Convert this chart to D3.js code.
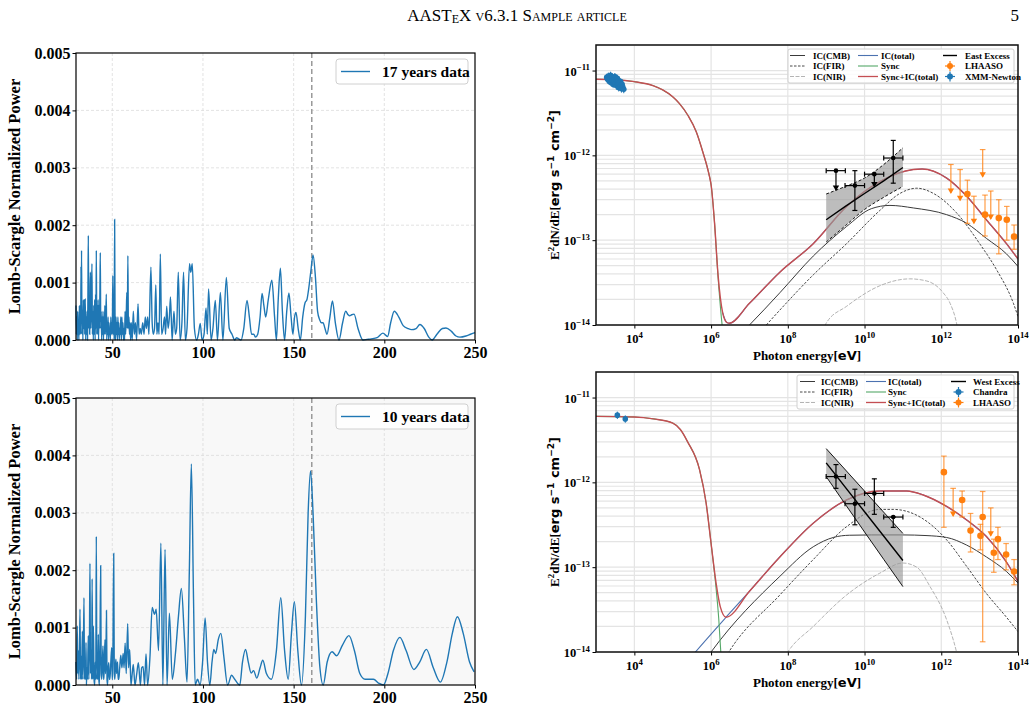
<!DOCTYPE html>
<html>
<head>
<meta charset="utf-8">
<script src="https://cdn.jsdelivr.net/npm/d3@7"></script>
<style>
body { margin: 0; background: #fff; }
svg { display: block; }
</style>
</head>
<body>
<svg id="fig" width="1034" height="712"></svg>
<script>
// ---- periodogram data (period in days, normalized power) ----
var lomb17 = [[30.0,0.0006],[30.2,0.0001],[30.45,0.0004],[30.7,0.0],[30.9,0.0005],[31.1,0.0001],[31.35,0.0003],[31.6,0.0],[31.85,0.0006],[32.1,0.0001],[32.35,0.0006],[32.6,0.0001],[32.75,0.00128],[32.9,0.0003],[33.05,0.00156],[33.3,0.0001],[33.55,0.0005],[33.8,0.0],[34.05,0.0007],[34.3,0.0002],[34.55,0.0007],[34.8,0.0001],[35.1,0.00072],[35.35,0.0],[35.6,0.0004],[35.85,0.0001],[36.1,0.0005],[36.35,0.0],[36.6,0.0009],[36.8,0.00182],[37.05,0.0002],[37.3,0.0006],[37.55,0.0001],[37.75,0.0009],[37.95,0.00118],[38.2,0.0002],[38.45,0.0006],[38.8,0.00133],[39.05,0.0001],[39.3,0.0005],[39.55,0.0],[39.8,0.0006],[40.05,0.0001],[40.3,0.0007],[40.55,0.0],[40.8,0.0008],[41.0,0.0002],[41.2,0.00156],[41.45,0.0001],[41.7,0.0006],[41.95,0.0001],[42.2,0.0007],[42.45,0.0],[42.7,0.0006],[42.95,0.0002],[43.2,0.0009],[43.4,0.00152],[43.65,0.0002],[43.9,0.0005],[44.15,0.0],[44.4,0.0004],[44.65,0.0001],[44.9,0.0005],[45.15,0.0],[45.4,0.0004],[45.65,0.0001],[45.9,0.0006],[46.15,0.0001],[46.4,0.0003],[46.7,0.0008],[46.95,0.0],[47.2,0.0003],[47.45,0.0001],[47.7,0.0004],[47.95,0.0],[48.2,0.0003],[48.45,0.0001],[48.7,0.0002],[48.95,0.0],[49.2,0.0004],[49.45,0.0001],[49.7,0.0003],[50.0,0.0001],[50.3,0.00112],[50.55,0.0001],[50.8,0.0004],[51.05,0.0],[51.3,0.0021],[51.55,0.0002],[51.8,0.0],[52.05,0.0004],[52.3,0.0001],[52.6,0.0003],[52.85,0.0],[53.1,0.0004],[53.35,0.0001],[53.6,0.0003],[53.85,0.0],[54.1,0.0002],[54.4,0.0001],[54.7,0.0004],[55.0,0.0],[55.3,0.0004],[55.6,0.0001],[55.9,0.0003],[56.2,0.0],[56.5,0.0002],[56.8,0.0],[57.05,0.0005],[57.35,0.0001],[57.7,0.0004],[58.0,0.00083],[58.3,0.0002],[58.6,0.00147],[58.9,0.0002],[59.2,0.0004],[59.5,0.0001],[59.8,0.0003],[60.1,0.0],[60.5,0.0003],[61.0,0.0],[61.6,0.0005],[62.2,0.0001],[62.8,0.0003],[63.4,0.0],[64.2,0.00063],[64.8,0.0001],[65.4,0.0002],[66.0,0.0001],[66.8,0.0003],[67.5,0.0001],[68.2,0.0004],[68.8,0.0002],[69.5,0.0004],[70.2,0.0001],[71.3,0.00127],[72.0,0.0003],[72.6,0.0001],[73.3,0.0002],[74.0,0.00096],[74.6,0.0001],[75.2,0.0003],[75.8,0.0001],[76.5,0.0015],[77.2,0.0001],[78.0,0.0002],[78.8,0.0004],[79.4,0.0001],[80.0,0.00059],[80.8,0.0002],[81.5,0.0004],[82.1,0.00075],[83.0,0.0],[84.0,0.0005],[84.8,0.0001],[85.5,0.0002],[86.4,0.00118],[87.4,0.0],[88.4,0.0003],[89.3,0.00118],[90.3,0.0],[91.2,0.0002],[92.6,0.00133],[93.3,0.00118],[94.1,0.00133],[95.3,0.0002],[96.5,0.0],[97.5,0.0001],[98.5,0.00029],[99.5,0.0],[100.6,0.0001],[101.7,0.00056],[102.4,0.0001],[103.1,0.00089],[104.5,0.0],[105.5,0.0002],[106.8,0.00069],[108.0,0.0],[109.6,0.00083],[111.0,0.0],[112.9,0.00109],[114.5,0.0002],[116.0,0.0001],[117.5,0.0],[118.5,0.00004],[119.7,0.00002],[121.0,0.0],[122.5,0.0002],[124.3,0.00069],[125.6,0.0004],[126.8,0.0001],[128.0,0.0001],[129.0,0.00005],[130.2,0.0001],[131.5,0.0004],[132.6,0.00081],[133.6,0.0006],[134.6,0.0004],[136.0,0.0007],[138.0,0.00104],[139.5,0.0004],[140.5,0.0],[141.5,0.0007],[142.7,0.00125],[143.8,0.0005],[145.0,0.0],[146.2,0.0005],[147.4,0.00082],[148.6,0.0004],[149.6,0.0001],[150.5,0.0004],[151.3,0.00048],[152.5,0.0002],[153.7,0.0],[155.0,0.0004],[156.3,0.00065],[157.3,0.0007],[158.2,0.00087],[159.5,0.0012],[160.7,0.00148],[162.0,0.0011],[163.2,0.0005],[164.4,0.00035],[165.3,0.0003],[166.2,0.0003],[167.3,0.0002],[168.4,0.0001],[170.0,0.0004],[171.4,0.00068],[173.0,0.0003],[175.0,0.0],[177.0,0.0003],[178.7,0.0005],[180.0,0.00044],[180.9,0.00042],[182.0,0.00044],[183.3,0.00045],[185.5,0.0002],[188.2,0.0],[190.5,0.00001],[192.8,0.00002],[196.0,0.00004],[199.2,0.00012],[201.8,0.00006],[203.5,0.0003],[205.5,0.0005],[208.0,0.0004],[210.4,0.00025],[213.0,0.0002],[215.0,0.00018],[217.5,0.0002],[219.6,0.00027],[222.0,0.0002],[224.5,0.00005],[226.4,0.0],[229.0,0.0001],[232.0,0.0002],[234.0,0.00021],[237.0,0.00015],[239.5,0.00007],[241.7,0.00005],[245.0,0.00007],[247.5,0.0001],[250.0,0.00013]];

var lomb10 = [[30.0,0.0004],[30.35,0.0001],[30.7,0.00103],[31.0,0.0002],[31.3,0.0006],[31.6,0.0001],[31.9,0.0005],[32.2,0.00132],[32.5,0.0001],[32.8,0.0005],[33.1,0.0001],[33.5,0.00094],[33.8,0.0001],[34.1,0.0006],[34.4,0.00152],[34.7,0.0001],[35.0,0.0004],[35.25,0.0001],[35.5,0.00074],[35.75,0.0],[36.0,0.0003],[36.3,0.0001],[36.8,0.00086],[37.05,0.0001],[37.4,0.0007],[37.7,0.00212],[38.0,0.0002],[38.3,0.0006],[38.6,0.0001],[38.9,0.00185],[39.2,0.0001],[39.6,0.00103],[39.95,0.0001],[40.3,0.0],[40.6,0.0004],[40.9,0.0001],[41.2,0.00259],[41.5,0.0001],[41.8,0.0004],[42.05,0.0001],[42.3,0.00088],[42.6,0.0001],[42.9,0.0],[43.2,0.0006],[43.6,0.00208],[43.9,0.0002],[44.2,0.0001],[44.55,0.0004],[44.9,0.00068],[45.15,0.0001],[45.4,0.0001],[45.7,0.0005],[46.0,0.00079],[46.2,0.0002],[46.4,0.0002],[46.8,0.0013],[47.1,0.0001],[47.4,0.0],[47.75,0.0003],[48.1,0.00039],[48.4,0.0001],[48.7,0.0001],[49.2,0.0004],[49.7,0.00065],[49.95,0.0001],[50.2,0.0001],[50.8,0.00229],[51.1,0.0002],[51.4,0.0001],[51.7,0.0003],[52.0,0.00045],[52.4,0.0002],[52.9,0.0004],[53.25,0.0001],[53.6,0.0001],[54.1,0.0003],[54.7,0.00052],[55.3,0.0003],[56.0,0.00055],[56.5,0.0003],[57.1,0.00073],[57.7,0.0002],[58.5,0.00107],[59.0,0.0003],[59.6,0.00062],[60.3,0.0],[61.0,0.0002],[61.6,0.00036],[62.5,0.0],[63.5,0.0002],[64.4,0.00039],[65.5,0.0],[66.2,0.0003],[67.0,0.00032],[67.8,0.0],[68.6,0.00054],[69.5,0.0],[70.8,0.0005],[72.0,0.00135],[73.3,0.00123],[74.2,0.00132],[75.5,0.0006],[76.8,0.00247],[77.9,0.0],[79.1,0.00236],[80.2,0.0],[81.5,0.00125],[83.1,0.0001],[84.8,0.00054],[86.5,0.0012],[88.1,0.00168],[89.8,0.0008],[91.2,0.00005],[92.5,0.002],[93.6,0.00385],[94.8,0.0015],[95.7,0.0],[97.0,0.0001],[98.4,0.0],[99.8,0.0004],[101.2,0.00117],[102.5,0.0004],[103.8,0.0],[105.0,0.0004],[106.0,0.00062],[107.0,0.00055],[108.5,0.0008],[109.9,0.0009],[111.5,0.0005],[113.6,0.0],[115.8,0.00017],[117.5,0.0001],[120.3,0.0],[121.8,0.0004],[123.5,0.00062],[125.0,0.0004],[126.6,0.00021],[127.9,0.00025],[129.7,0.00012],[131.5,0.0003],[133.0,0.00043],[135.0,0.0002],[137.7,0.0001],[140.5,0.0006],[142.9,0.00152],[145.0,0.0006],[147.0,0.0001],[148.8,0.0009],[150.4,0.00145],[152.3,0.0006],[154.3,0.0],[156.5,0.0012],[158.0,0.003],[159.3,0.00373],[160.7,0.003],[162.5,0.0015],[164.5,0.0003],[166.3,0.0],[168.5,0.0004],[171.2,0.00058],[173.7,0.00051],[177.0,0.0007],[180.5,0.00086],[183.5,0.0006],[186.5,0.0002],[189.4,0.0001],[192.0,0.0001],[194.0,0.0001],[197.0,0.00003],[199.5,0.0],[202.0,0.0002],[205.0,0.0006],[208.6,0.00083],[212.0,0.0006],[216.3,0.00027],[219.5,0.0004],[223.2,0.00062],[227.0,0.0003],[230.9,0.00005],[234.5,0.0004],[237.5,0.0009],[240.3,0.00119],[243.5,0.0009],[247.0,0.0004],[249.5,0.00023]];

var periodTicks = [50, 100, 150, 200, 250];
var powerTicks = [0, 0.001, 0.002, 0.003, 0.004, 0.005];
var markPeriod = 160;

// ---- SED data (photon energy eV, E^2 dN/dE erg s^-1 cm^-2) ----
var energyTicks = [1e4, 1e6, 1e8, 1e10, 1e12, 1e14];
var energyExp = ["4", "6", "8", "10", "12", "14"];
var fluxTicks = [1e-14, 1e-13, 1e-12, 1e-11];
var fluxExp = ["\u221214", "\u221213", "\u221212", "\u221211"];

// East
var eastSyncIC = [[1e3,7.9e-12],[3.16e3,7.8e-12],[1e4,7.4e-12],[3.16e4,6.6e-12],[5.5e4,5.9e-12],[1e5,4.9e-12],[1.48e5,4.1e-12],[2.5e5,2.95e-12],[4.1e5,1.9e-12],[6.0e5,1.12e-12],[9.1e5,5.6e-13],[1e6,4.5e-13],[1.23e6,1.6e-13],[1.51e6,4.0e-14],[2.0e6,1.4e-14],[2.57e6,1.07e-14],[2.95e6,1.05e-14],[1e7,1.8e-14],[6.2e7,4.2e-14],[4.6e8,9.1e-14],[3.4e9,2.5e-13],[2.5e10,4.9e-13],[1.86e11,6.8e-13],[3.16e11,6.9e-13],[1.38e12,5.4e-13],[4.6e12,3.3e-13],[1.5e13,1.74e-13],[5e13,9.1e-14],[1e14,6.0e-14]];
var eastSync = [[1e3,7.9e-12],[3.16e3,7.8e-12],[1e4,7.4e-12],[3.16e4,6.6e-12],[5.5e4,5.9e-12],[1e5,4.9e-12],[1.48e5,4.1e-12],[2.5e5,2.95e-12],[4.1e5,1.9e-12],[6.0e5,1.12e-12],[9.1e5,5.6e-13],[1e6,4.5e-13],[1.23e6,1.6e-13],[1.51e6,3.8e-14],[1.86e6,1.2e-14],[2.1e6,7e-15]];
var eastICTotal = [[2.0e6,1.4e-14],[2.57e6,1.07e-14],[2.95e6,1.05e-14],[1e7,1.8e-14],[6.2e7,4.2e-14],[4.6e8,9.1e-14],[3.4e9,2.5e-13],[2.5e10,4.9e-13],[1.86e11,6.8e-13],[3.16e11,6.9e-13],[1.38e12,5.4e-13],[4.6e12,3.3e-13],[1.5e13,1.74e-13],[5e13,9.1e-14],[1e14,6.0e-14]];
var eastCMB = [[7e6,8.5e-15],[1e7,1e-14],[6.2e7,2.4e-14],[4.6e8,6.5e-14],[3.4e9,1.45e-13],[1.5e10,2.35e-13],[4.6e10,2.57e-13],[1.86e11,2.4e-13],[1.38e12,2.0e-13],[4.6e12,1.58e-13],[1.5e13,1.05e-13],[5e13,6.9e-14],[1e14,4.9e-14]];
var eastFIR = [[2e7,8.5e-15],[2.75e7,1e-14],[6.2e7,1.5e-14],[4.6e8,3.9e-14],[3.4e9,9.1e-14],[2.5e10,2.24e-13],[8.3e10,3.55e-13],[2.3e11,4.1e-13],[6.3e11,3.55e-13],[2.5e12,2.1e-13],[1e13,9.1e-14],[2.75e13,4.5e-14],[7.6e13,1.8e-14],[1e14,1.26e-14]];
var eastNIR = [[8e8,8.5e-15],[1e9,1.05e-14],[3.4e9,1.66e-14],[2.5e10,2.9e-14],[1.5e11,3.5e-14],[4.2e11,3.3e-14],[1.12e12,2.4e-14],[1.7e12,1.8e-14],[2.5e12,1.05e-14],[2.8e12,8e-15]];
var eastBowE = [1e9, 3.16e9, 1e10, 3.16e10, 1e11];
var eastBowHi = [3.5e-13, 4.3e-13, 5.4e-13, 7.8e-13, 1.23e-12];
var eastBowLo = [9.5e-14, 1.48e-13, 2.3e-13, 3.2e-13, 4.3e-13];
var eastBowMid = [1.74e-13, 2.5e-13, 3.55e-13, 5.0e-13, 7.2e-13];
// [E, F, Elo, Ehi, Flo, Fhi]
var eastFermi = [[5.6e9,4.4e-13,3.1e9,1e10,2.24e-13,6.6e-13],[5.6e10,9.3e-13,3.16e10,1e11,4.7e-13,1.5e-12]];
// [E, F, Elo, Ehi, arrow tip]
var eastFermiUL = [[1.8e9,6.6e-13,1e9,3.16e9,3.9e-13],[1.8e10,6.0e-13,1e10,3.16e10,4.3e-13]];
// [E, F, Flo, Fhi]
var eastLhaaso = [[4.8e12,3.5e-13,1.58e-13,5.1e-13],[1.38e13,2.0e-13,1.12e-13,3.4e-13],[3.16e13,1.82e-13,6.9e-14,3.0e-13],[5.1e13,1.74e-13,1.0e-13,2.5e-13],[7.9e13,1.1e-13,7.8e-14,1.51e-13]];
// [E, cap, arrow tip]
var eastLhaasoUL = [[1.78e12,7.8e-13,3.6e-13],[3.1e12,6.8e-13,2.95e-13],[7.1e12,3.3e-13,1.58e-13],[1.2e13,1.17e-12,5.6e-13],[1.95e13,3.8e-13,1.78e-13]];
var xmmE = [1.9e3,2.0e3,2.1e3,2.2e3,2.3e3,2.4e3,2.5e3,2.6e3,2.7e3,2.8e3,2.9e3,3.0e3,3.1e3,3.2e3,3.3e3,3.4e3,3.5e3,3.6e3,3.7e3,3.8e3,3.9e3,4.0e3,4.2e3,4.4e3,4.6e3,4.8e3,5.0e3,5.3e3];
var xmmF = [8.3e-12,7.9e-12,8.6e-12,7.5e-12,8.1e-12,8.8e-12,7.2e-12,8.4e-12,7.7e-12,6.9e-12,8.0e-12,7.4e-12,8.5e-12,7.0e-12,7.8e-12,6.6e-12,7.3e-12,8.1e-12,6.8e-12,7.5e-12,6.3e-12,7.1e-12,6.5e-12,7.4e-12,6.1e-12,6.9e-12,6.4e-12,6.0e-12];

// West
var westSyncIC = [[1e3,6.0e-12],[1e4,5.9e-12],[3.16e4,5.6e-12],[1e5,5.0e-12],[1.58e5,4.2e-12],[2.45e5,3.0e-12],[5e5,1.41e-12],[7.4e5,5.75e-13],[1e6,1.9e-13],[1.35e6,6.5e-14],[1.74e6,3.4e-14],[2.45e6,2.57e-14],[1e7,5.2e-14],[6.2e7,1.32e-13],[4.6e8,3.3e-13],[3.4e9,6.2e-13],[2.5e10,7.9e-13],[1.26e11,7.9e-13],[3.4e11,7.1e-13],[1.38e12,5.2e-13],[4.6e12,3.6e-13],[1.5e13,2.3e-13],[5e13,1.15e-13],[1e14,6.8e-14]];
var westSync = [[1e3,6.0e-12],[1e4,5.9e-12],[3.16e4,5.6e-12],[1e5,5.0e-12],[1.58e5,4.2e-12],[2.45e5,3.0e-12],[5e5,1.41e-12],[7.4e5,5.75e-13],[1e6,1.9e-13],[1.35e6,5.6e-14],[1.58e6,2.5e-14],[1.82e6,8.9e-15]];
var westICTotal = [[3e5,8.7e-15],[3.9e5,1e-14],[2.45e6,2.57e-14],[1e7,5.2e-14],[6.2e7,1.32e-13],[4.6e8,3.3e-13],[3.4e9,6.2e-13],[2.5e10,7.9e-13],[1.26e11,7.9e-13],[3.4e11,7.1e-13],[1.38e12,5.2e-13],[4.6e12,3.6e-13],[1.5e13,2.3e-13],[5e13,1.15e-13],[1e14,6.8e-14]];
var westCMB = [[8e5,8.7e-15],[1e6,1e-14],[6.2e7,7.8e-14],[4.6e8,1.74e-13],[1.58e9,2.25e-13],[4e9,2.38e-13],[1.5e10,2.4e-13],[1e11,2.4e-13],[4e11,2.36e-13],[1.38e12,2.24e-13],[4.6e12,1.82e-13],[1.5e13,1.32e-13],[5e13,8.9e-14],[1e14,6.5e-14]];
var westFIR = [[2.4e6,8.7e-15],[2.9e6,1e-14],[6.2e7,4.7e-14],[4.6e8,1.23e-13],[3.4e9,3.0e-13],[2.5e10,4.8e-13],[5.6e10,4.8e-13],[2.8e11,3.9e-13],[1.38e12,2.1e-13],[4.6e12,1.02e-13],[1.5e13,4.9e-14],[5e13,2.57e-14],[1e14,1.74e-14]];
var westNIR = [[8e7,8.5e-15],[1e8,1e-14],[4.6e8,2.0e-14],[3.4e9,4.7e-14],[2.5e10,8.5e-14],[1e11,1.12e-13],[2.3e11,1.0e-13],[5.1e11,5.9e-14],[1.38e12,2.4e-14],[2.5e12,1e-14],[3e12,7e-15]];
var westBowE = [1e9, 1e10, 1e11];
var westBowHi = [2.5e-12, 7.9e-13, 2.5e-13];
var westBowLo = [1.17e-12, 2.6e-13, 5.9e-14];
var westBowMid = [1.7e-12, 4.5e-13, 1.2e-13];
var westFermi = [[1.8e9,1.17e-12,1e9,3.16e9,8.5e-13,1.62e-12],[5.6e9,5.6e-13,3.1e9,1e10,3.16e-13,8.3e-13],[1.8e10,7.4e-13,1e10,3.16e10,4.2e-13,1.1e-12],[5.6e10,3.9e-13,3.16e10,1e11,2.95e-13,3.9e-13]];
var westFermiUL = [];
var westLhaaso = [[1.17e12,1.32e-12,2.95e-13,2.04e-12],[3.5e12,6.2e-13,3.9e-13,7.9e-13],[5.8e12,2.7e-13,1.51e-13,4.3e-13],[1.05e13,2.34e-13,1.6e-13,3.2e-13],[1.2e13,3.9e-13,1.32e-14,7.8e-13],[2.34e13,1.48e-13,8.7e-14,2.14e-13],[3.0e13,2.14e-13,1.23e-13,2.95e-13],[4.9e13,1.41e-13,9.3e-14,1.9e-13],[7.9e13,8.9e-14,6.2e-14,1.23e-13]];
var westLhaasoUL = [[2.04e12,8.5e-13,4.0e-13],[1.95e13,5.0e-13,2.34e-13]];
var chandraE = [3.6e3, 5.8e3];
var chandraF = [6.2e-12, 5.6e-12];

var svg = d3.select("#fig");
var serif = "'Liberation Serif','Times New Roman',serif";
var sans = "'DejaVu Sans',sans-serif";
var blue = "#1f77b4", orange = "#ff7f0e";

// ---- page header ----
var head = svg.append("text").attr("x", 517).attr("y", 21).attr("text-anchor", "middle")
    .style("font-family", serif).style("font-size", "17px").style("font-variant", "small-caps");
head.append("tspan").text("AAST");
head.append("tspan").attr("dy", 2).text("e");
head.append("tspan").attr("dy", -2).text("X v6.3.1 Sample article");
svg.append("text").attr("x", 1019).attr("y", 21).attr("text-anchor", "end")
    .style("font-family", serif).style("font-size", "17px").text("5");

// ---- Lomb-Scargle panels ----
function drawLomb(top, data, label, bg) {
    var left = 76, right = 475, bottom = top + 287;
    var x = d3.scaleLinear().domain([30, 250]).range([left, right]);
    var y = d3.scaleLinear().domain([0, 0.005]).range([bottom, top]);
    var g = svg.append("g");
    g.append("rect").attr("x", left).attr("y", top).attr("width", right - left).attr("height", bottom - top)
        .attr("fill", bg);
    // grid
    g.selectAll(null).data(periodTicks.slice(0, -1)).enter().append("line")
        .attr("x1", d => x(d)).attr("x2", d => x(d)).attr("y1", top).attr("y2", bottom)
        .attr("stroke", "#dcdcdc").attr("stroke-dasharray", "3,2").attr("stroke-width", 0.8);
    g.selectAll(null).data(powerTicks.slice(1, -1)).enter().append("line")
        .attr("y1", d => y(d)).attr("y2", d => y(d)).attr("x1", left).attr("x2", right)
        .attr("stroke", "#dcdcdc").attr("stroke-dasharray", "3,2").attr("stroke-width", 0.8);
    // period marker
    g.append("line").attr("x1", x(markPeriod)).attr("x2", x(markPeriod)).attr("y1", top).attr("y2", bottom)
        .attr("stroke", "#999").attr("stroke-width", 1.5).attr("stroke-dasharray", "5,3");
    var line = d3.line().x(d => x(d[0])).y(d => y(d[1])).curve(d3.curveMonotoneX);
    g.append("path").datum(data).attr("d", line).attr("fill", "none")
        .attr("stroke", blue).attr("stroke-width", 1.4);
    // axes
    var xa = g.append("g").attr("transform", "translate(0," + bottom + ")")
        .call(d3.axisBottom(x).tickValues(periodTicks).tickSize(3.5).tickPadding(3));
    var ya = g.append("g").attr("transform", "translate(" + left + ",0)")
        .call(d3.axisLeft(y).tickValues(powerTicks).tickFormat(d3.format(".3f")).tickSize(3.5).tickPadding(2));
    [xa, ya].forEach(function (a) {
        a.select(".domain").remove();
        a.selectAll("text").style("font-family", serif).style("font-weight", "bold").style("font-size", "16px").attr("fill", "#000");
        a.selectAll("line").attr("stroke", "#000");
    });
    g.append("rect").attr("x", left).attr("y", top).attr("width", right - left).attr("height", bottom - top)
        .attr("fill", "none").attr("stroke", "#000").attr("stroke-width", 1.2);
    g.append("text").attr("transform", "translate(20," + (top + bottom) / 2 + ") rotate(-90)")
        .attr("text-anchor", "middle").style("font-family", serif).style("font-weight", "bold")
        .style("font-size", "16.5px").text("Lomb-Scargle Normalized Power");
    // legend
    g.append("rect").attr("x", 336).attr("y", top + 6).attr("width", 132).attr("height", 25).attr("rx", 3)
        .attr("fill", "#fff").attr("fill-opacity", 0.85).attr("stroke", "#d0d0d0");
    g.append("line").attr("x1", 341).attr("x2", 370).attr("y1", top + 18.5).attr("y2", top + 18.5)
        .attr("stroke", blue).attr("stroke-width", 1.4);
    g.append("text").attr("x", 382).attr("y", top + 24).style("font-family", serif).style("font-weight", "bold")
        .style("font-size", "15.5px").text(label);
}
drawLomb(53, lomb17, "17 years data", "#fff");
drawLomb(398, lomb10, "10 years data", "#f8f8f8");

// ---- SED panels ----
function supText(sel, base, exp, size) {
    sel.append("tspan").text(base);
    sel.append("tspan").attr("dy", -size * 0.42).style("font-size", (size * 0.7) + "px").text(exp);
}

function drawSED(top, c) {
    var left = 596, right = 1018, h = 280, bottom = top + h;
    var x = d3.scaleLog().domain([1e3, 1e14]).range([left, right]);
    var y = d3.scaleLog().domain([1e-14, 2e-11]).range([bottom, top]);
    var g = svg.append("g");
    svg.append("clipPath").attr("id", "clip" + c.id).append("rect")
        .attr("x", left).attr("y", top).attr("width", right - left).attr("height", h);

    var hgrid = [];
    fluxTicks.forEach(function (t) {
        for (var k = 1; k < 10; k++) { if (t * k <= 2e-11) hgrid.push(t * k); }
    });
    g.selectAll(null).data(hgrid).enter().append("line")
        .attr("x1", left).attr("x2", right).attr("y1", d => y(d)).attr("y2", d => y(d))
        .attr("stroke", "#e4e4e4").attr("stroke-width", 1.2);
    g.selectAll(null).data(energyTicks.slice(0, -1)).enter().append("line")
        .attr("y1", top).attr("y2", bottom).attr("x1", d => x(d)).attr("x2", d => x(d))
        .attr("stroke", "#e4e4e4").attr("stroke-width", 1.2);

    var plot = g.append("g").attr("clip-path", "url(#clip" + c.id + ")");
    var line = d3.line().x(d => x(d[0])).y(d => y(d[1])).curve(d3.curveMonotoneX);
    function model(data, color, width, dash) {
        plot.append("path").datum(data).attr("d", line).attr("fill", "none")
            .attr("stroke", color).attr("stroke-width", width).attr("stroke-dasharray", dash || null);
    }
    model(c.cmb, "#3a3a3a", 1);
    model(c.fir, "#333", 0.9, "2.5,1.5");
    model(c.nir, "#aaa", 0.9, "4,1.5");
    model(c.ict, "#4c72b0", 1.1);
    model(c.sync, "#55a868", 1.1);
    model(c.syncic, "#c44e52", 1.4);

    // butterfly
    var bow = c.bowE.map(function (e, i) { return { e: e, hi: c.bowHi[i], lo: c.bowLo[i], mid: c.bowMid[i] }; });
    plot.append("path").datum(bow).attr("fill", "#9a9a9a").attr("fill-opacity", 0.65)
        .attr("d", d3.area().x(d => x(d.e)).y0(d => y(d.lo)).y1(d => y(d.hi)).curve(d3.curveMonotoneX));
    ["hi", "lo"].forEach(function (k) {
        plot.append("path").datum(bow).attr("fill", "none").attr("stroke", "#000").attr("stroke-width", 0.9)
            .attr("stroke-dasharray", c.bowDash ? "3,2" : null)
            .attr("d", d3.line().x(d => x(d.e)).y(d => y(d[k])).curve(d3.curveMonotoneX));
    });
    plot.append("path").datum(bow).attr("fill", "none").attr("stroke", "#000").attr("stroke-width", 1.4)
        .attr("d", d3.line().x(d => x(d.e)).y(d => y(d.mid)));

    function vbar(e, f1, f2, color, w, op) {
        plot.append("line").attr("x1", x(e)).attr("x2", x(e)).attr("y1", y(f1)).attr("y2", y(f2))
            .attr("stroke", color).attr("stroke-width", w).attr("stroke-opacity", op);
    }
    function hbar(e1, e2, f, color, w, op) {
        plot.append("line").attr("x1", x(e1)).attr("x2", x(e2)).attr("y1", y(f)).attr("y2", y(f))
            .attr("stroke", color).attr("stroke-width", w).attr("stroke-opacity", op);
    }
    function capH(e, f, color, half, op) {
        plot.append("line").attr("x1", x(e) - half).attr("x2", x(e) + half).attr("y1", y(f)).attr("y2", y(f))
            .attr("stroke", color).attr("stroke-width", 1.2).attr("stroke-opacity", op);
    }
    function capV(e, f, color, half) {
        plot.append("line").attr("x1", x(e)).attr("x2", x(e)).attr("y1", y(f) - half).attr("y2", y(f) + half)
            .attr("stroke", color).attr("stroke-width", 1.2);
    }
    function arrowDown(e, f, color) {
        var px = x(e), py = y(f);
        plot.append("path").attr("d", "M" + (px - 3.2) + "," + (py - 4.5) + "L" + (px + 3.2) + "," + (py - 4.5) + "L" + px + "," + (py + 1) + "Z")
            .attr("fill", color);
    }

    // Fermi points
    c.fermi.forEach(function (p) {
        hbar(p[2], p[3], p[1], "#000", 1.2, 1);
        capV(p[2], p[1], "#000", 2.5); capV(p[3], p[1], "#000", 2.5);
        vbar(p[0], p[4], p[5], "#000", 1.2, 1);
        capH(p[0], p[4], "#000", 2.5, 1); capH(p[0], p[5], "#000", 2.5, 1);
        plot.append("circle").attr("cx", x(p[0])).attr("cy", y(p[1])).attr("r", 2.3).attr("fill", "#000");
    });
    c.fermiUL.forEach(function (p) {
        hbar(p[2], p[3], p[1], "#000", 1.2, 1);
        capV(p[2], p[1], "#000", 2.5); capV(p[3], p[1], "#000", 2.5);
        vbar(p[0], p[1], p[4], "#000", 1.2, 1);
        arrowDown(p[0], p[4], "#000");
        plot.append("circle").attr("cx", x(p[0])).attr("cy", y(p[1])).attr("r", 2.3).attr("fill", "#000");
    });
    // LHAASO
    c.lhaasoUL.forEach(function (p) {
        vbar(p[0], p[1], p[2], orange, 1.3, 0.75);
        capH(p[0], p[1], orange, 2.8, 0.75);
        arrowDown(p[0], p[2], orange);
    });
    c.lhaaso.forEach(function (p) {
        vbar(p[0], p[2], p[3], orange, 1.3, 0.7);
        capH(p[0], p[2], orange, 2.8, 0.7); capH(p[0], p[3], orange, 2.8, 0.7);
        plot.append("circle").attr("cx", x(p[0])).attr("cy", y(p[1])).attr("r", 3.3).attr("fill", orange);
    });
    // X-ray points
    c.xE.forEach(function (e, i) {
        var f = c.xF[i];
        vbar(e, f * 0.9, f * 1.1, blue, 1, 1);
        hbar(e * 0.93, e * 1.07, f, blue, 1, 1);
        plot.append("circle").attr("cx", x(e)).attr("cy", y(f)).attr("r", 2.8).attr("fill", blue);
    });

    // axes
    var xa = g.append("g").attr("transform", "translate(0," + bottom + ")")
        .call(d3.axisBottom(x).tickValues(energyTicks).tickFormat("").tickSize(3.5));
    var ya = g.append("g").attr("transform", "translate(" + left + ",0)")
        .call(d3.axisLeft(y).tickValues(fluxTicks).tickFormat("").tickSize(3.5));
    [xa, ya].forEach(function (a) { a.select(".domain").remove(); a.selectAll("line").attr("stroke", "#000"); });
    energyTicks.forEach(function (t, i) {
        var tx = g.append("text").attr("x", x(t)).attr("y", bottom + 18).attr("text-anchor", "middle")
            .style("font-family", serif).style("font-weight", "bold").style("font-size", "12.5px");
        supText(tx, "10", energyExp[i], 12.5);
    });
    fluxTicks.forEach(function (t, i) {
        var ty = g.append("text").attr("x", left - 6).attr("y", y(t) + 5).attr("text-anchor", "end")
            .style("font-family", serif).style("font-weight", "bold").style("font-size", "12.5px");
        supText(ty, "10", fluxExp[i], 12.5);
    });
    g.append("rect").attr("x", left).attr("y", top).attr("width", right - left).attr("height", h)
        .attr("fill", "none").attr("stroke", "#111").attr("stroke-width", 1.5);

    var xl = g.append("text").attr("x", (left + right) / 2).attr("y", bottom + 35).attr("text-anchor", "middle")
        .style("font-family", serif).style("font-weight", "bold").style("font-size", "13px");
    xl.append("tspan").text("Photon energy[");
    xl.append("tspan").style("font-family", sans).text("eV");
    xl.append("tspan").text("]");

    var yl = g.append("text").attr("transform", "translate(559," + (top + 140) + ") rotate(-90)")
        .attr("text-anchor", "middle").style("font-weight", "bold").style("font-size", "13px");
    yl.append("tspan").style("font-family", serif).text("E");
    yl.append("tspan").style("font-family", serif).style("font-size", "9px").attr("dy", -5).text("2");
    yl.append("tspan").style("font-family", serif).attr("dy", 5).text("dN/dE[");
    yl.append("tspan").style("font-family", sans).text("erg s");
    yl.append("tspan").style("font-family", sans).style("font-size", "9px").attr("dy", -5).text("\u22121");
    yl.append("tspan").style("font-family", sans).attr("dy", 5).text(" cm");
    yl.append("tspan").style("font-family", sans).style("font-size", "9px").attr("dy", -5).text("\u22122");
    yl.append("tspan").style("font-family", sans).attr("dy", 5).text("]");

    // legend
    var L = c.legend;
    g.append("rect").attr("x", L.x).attr("y", top + L.dy).attr("width", 1014 - L.x).attr("height", 34).attr("rx", 2)
        .attr("fill", "#fff").attr("fill-opacity", 0.85).attr("stroke", "#d0d0d0");
    var rows = [top + L.dy + 6.5, top + L.dy + 17, top + L.dy + 27.5];
    function legText(tx, ty, s) {
        g.append("text").attr("x", tx).attr("y", ty + 3).style("font-family", serif).style("font-weight", "bold")
            .style("font-size", "9px").text(s);
    }
    function legLine(c0, ty, color, w, dash) {
        g.append("line").attr("x1", c0[0]).attr("x2", c0[1]).attr("y1", ty).attr("y2", ty)
            .attr("stroke", color).attr("stroke-width", w).attr("stroke-dasharray", dash || null);
    }
    function legMarker(c0, ty, color) {
        var cx = (c0[0] + c0[1]) / 2;
        g.append("line").attr("x1", cx - 5).attr("x2", cx + 5).attr("y1", ty).attr("y2", ty).attr("stroke", color).attr("stroke-width", 1.2);
        g.append("line").attr("x1", cx).attr("x2", cx).attr("y1", ty - 5).attr("y2", ty + 5).attr("stroke", color).attr("stroke-width", 1.2);
        g.append("circle").attr("cx", cx).attr("cy", ty).attr("r", 3).attr("fill", color);
    }
    legLine(L.c1, rows[0], "#3a3a3a", 1); legText(L.c1[2], rows[0], "IC(CMB)");
    legLine(L.c1, rows[1], "#333", 0.9, "2.5,1.5"); legText(L.c1[2], rows[1], "IC(FIR)");
    legLine(L.c1, rows[2], "#aaa", 0.9, "4,1.5"); legText(L.c1[2], rows[2], "IC(NIR)");
    legLine(L.c2, rows[0], "#4c72b0", 1.1); legText(L.c2[2], rows[0], "IC(total)");
    legLine(L.c2, rows[1], "#55a868", 1.1); legText(L.c2[2], rows[1], "Sync");
    legLine(L.c2, rows[2], "#c44e52", 1.3); legText(L.c2[2], rows[2], "Sync+IC(total)");
    legLine(L.c3, rows[0], "#000", 1.4); legText(L.c3[2], rows[0], c.excess);
    legMarker(L.c3, rows[1], c.mark1[1]); legText(L.c3[2], rows[1], c.mark1[0]);
    legMarker(L.c3, rows[2], c.mark2[1]); legText(L.c3[2], rows[2], c.mark2[0]);
}

drawSED(45, {
    id: "east", syncic: eastSyncIC, sync: eastSync, ict: eastICTotal, cmb: eastCMB, fir: eastFIR, nir: eastNIR,
    bowE: eastBowE, bowHi: eastBowHi, bowLo: eastBowLo, bowMid: eastBowMid, bowDash: true,
    fermi: eastFermi, fermiUL: eastFermiUL, lhaaso: eastLhaaso, lhaasoUL: eastLhaasoUL,
    xE: xmmE, xF: xmmF, excess: "East Excess",
    mark1: ["LHAASO", orange], mark2: ["XMM-Newton", blue],
    legend: { x: 788, dy: 4, c1: [790, 805, 813], c2: [858, 878, 881], c3: [943, 957, 965] }
});
drawSED(372, {
    id: "west", syncic: westSyncIC, sync: westSync, ict: westICTotal, cmb: westCMB, fir: westFIR, nir: westNIR,
    bowE: westBowE, bowHi: westBowHi, bowLo: westBowLo, bowMid: westBowMid, bowDash: false,
    fermi: westFermi, fermiUL: westFermiUL, lhaaso: westLhaaso, lhaasoUL: westLhaasoUL,
    xE: chandraE, xF: chandraF, excess: "West Excess",
    mark1: ["Chandra", blue], mark2: ["LHAASO", orange],
    legend: { x: 797, dy: 3, c1: [800, 815, 821], c2: [866, 886, 888], c3: [951, 966, 973] }
});
</script>
</body>
</html>
